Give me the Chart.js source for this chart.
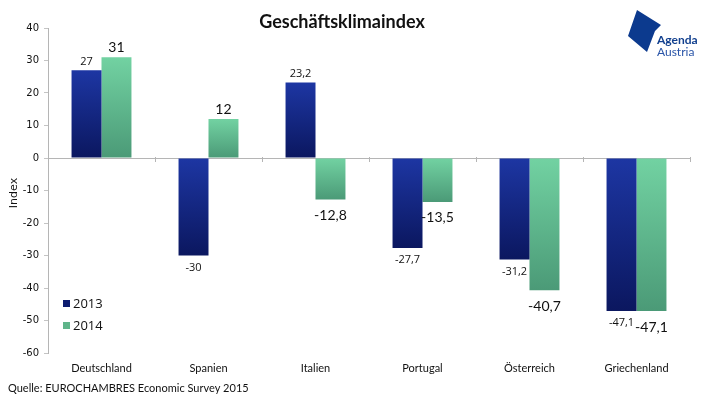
<!DOCTYPE html>
<html>
<head>
<meta charset="utf-8">
<script src="https://cdn.jsdelivr.net/npm/chart.js@4/dist/chart.umd.min.js"></script>
<style>
  html, body { margin: 0; padding: 0; background: #fff; }
  #wrap { width: 709px; height: 397px; position: relative; }
</style>
</head>
<body>
<div id="wrap"><canvas id="chart" width="709" height="397"></canvas></div>
<script>
// chart data
const countries = ['Deutschland', 'Spanien', 'Italien', 'Portugal', 'Österreich', 'Griechenland'];
const values2013 = [27, -30, 23.2, -27.7, -31.2, -47.1];
const values2014 = [31, 12, -12.8, -13.5, -40.7, -47.1];
const seriesNames = ['2013', '2014'];
const yTicks = [40, 30, 20, 10, 0, -10, -20, -30, -40, -50, -60];

// gradient stops per series: top -> bottom
const gradStops = [
    ['#1d36a3', '#0b175f'],
    ['#72d2a2', '#4b9a77']
];

function barGradient(ctx, idx) {
    const chart = ctx.chart;
    if (!chart.chartArea || ctx.type !== 'data') return gradStops[idx][1];
    const y = chart.scales.y;
    const v = ctx.raw;
    const p1 = y.getPixelForValue(Math.max(v, 0));
    const p2 = y.getPixelForValue(Math.min(v, 0));
    const g = chart.ctx.createLinearGradient(0, p1, 0, p2);
    g.addColorStop(0, gradStops[idx][0]);
    g.addColorStop(1, gradStops[idx][1]);
    return g;
}

const fmt = v => String(v).replace('.', ',');

const decorPlugin = {
    id: 'decor',
    afterDatasetsDraw(chart) {
        const c = chart.ctx;
        const area = chart.chartArea;
        const y0 = chart.scales.y.getPixelForValue(0);

        // small tick marks on the zero line between categories
        c.save();
        c.strokeStyle = '#b5b5b5';
        c.lineWidth = 1;
        const n = countries.length;
        const w = (area.right - area.left) / n;
        for (let i = 1; i <= n; i++) {
            const x = Math.round(area.left + w * i) + 0.5;
            c.beginPath();
            c.moveTo(x, y0 - 1);
            c.lineTo(x, y0 + 4);
            c.stroke();
        }
        c.restore();

        // value labels
        chart.data.datasets.forEach((ds, di) => {
            const meta = chart.getDatasetMeta(di);
            c.save();
            c.fillStyle = '#111';
            c.textAlign = 'center';
            c.font = di === 0 ? '11px "Open Sans"' : '14px Lato';
            meta.data.forEach((bar, i) => {
                const v = ds.data[i];
                if (v >= 0) {
                    c.textBaseline = 'bottom';
                    c.fillText(fmt(v), bar.x, bar.y - 3);
                } else {
                    c.textBaseline = 'middle';
                    c.fillText(fmt(v), bar.x, bar.y + (di === 0 ? 12 : 16));
                }
            });
            c.restore();
        });

        // legend inside the plot, bottom left
        c.save();
        c.font = '13px "Open Sans"';
        c.textBaseline = 'middle';
        c.textAlign = 'left';
        const legendY = [304, 326];
        const legendCol = ['#0d1c70', '#5fb58a'];
        seriesNames.forEach((s, i) => {
            c.fillStyle = legendCol[i];
            c.fillRect(63, legendY[i] - 4, 7, 7);
            c.fillStyle = '#111';
            c.fillText(s, 73, legendY[i]);
        });
        c.restore();

        // title, axis title, source
        c.save();
        c.fillStyle = '#111';
        c.textAlign = 'center';
        c.textBaseline = 'middle';
        c.font = 'bold 18px Lato';
        c.fillText('Geschäftsklimaindex', 342, 22);

        c.save();
        c.translate(14, 193);
        c.rotate(-Math.PI / 2);
        c.font = '11px "DejaVu Sans"';
        c.fillText('Index', 0, 0);
        c.restore();

        c.textAlign = 'left';
        c.font = '11px Lato';
        c.fillText('Quelle: EUROCHAMBRES Economic Survey 2015', 8, 388);

        // logo
        c.fillStyle = '#0c3a8e';
        c.beginPath();
        c.moveTo(637, 10);
        c.lineTo(661, 25);
        c.lineTo(655, 31);
        c.lineTo(647, 52);
        c.lineTo(628, 36);
        c.closePath();
        c.fill();
        c.textAlign = 'left';
        c.fillStyle = '#12408f';
        c.font = 'bold 12px Lato';
        c.fillText('Agenda', 657, 40);
        c.fillStyle = '#2a55a8';
        c.font = '12px Lato';
        c.fillText('Austria', 657, 52);
        c.restore();
    }
};

new Chart(document.getElementById('chart'), {
    type: 'bar',
    data: {
        labels: countries,
        datasets: [
            { label: seriesNames[0], data: values2013, backgroundColor: ctx => barGradient(ctx, 0) },
            { label: seriesNames[1], data: values2014, backgroundColor: ctx => barGradient(ctx, 1) }
        ]
    },
    options: {
        responsive: false,
        animation: false,
        layout: { padding: { top: 28, right: 19, bottom: 0, left: 0 } },
        plugins: {
            legend: { display: false },
            tooltip: { enabled: false }
        },
        datasets: {
            bar: { categoryPercentage: 0.56, barPercentage: 1.0, borderWidth: 0 }
        },
        scales: {
            x: {
                grid: { display: false, drawTicks: false },
                border: { display: false },
                ticks: { color: '#111', font: { family: 'Lato', size: 11 }, padding: 9 },
                afterFit(scale) { scale.height = 44; }
            },
            y: {
                min: -60,
                max: 40,
                afterBuildTicks(scale) { scale.ticks = yTicks.map(v => ({ value: v })); },
                grid: {
                    color: ctx => ctx.tick && ctx.tick.value === 0 ? '#b5b5b5' : 'rgba(0,0,0,0)',
                    tickColor: '#c4c4c4',
                    tickLength: 4,
                    drawOnChartArea: true
                },
                border: { display: true, color: '#b5b5b5' },
                ticks: { color: '#111', font: { family: 'DejaVu Sans', size: 10 }, padding: 5 },
                afterFit(scale) { scale.width = 48; }
            }
        }
    },
    plugins: [decorPlugin]
});
</script>
</body>
</html>
